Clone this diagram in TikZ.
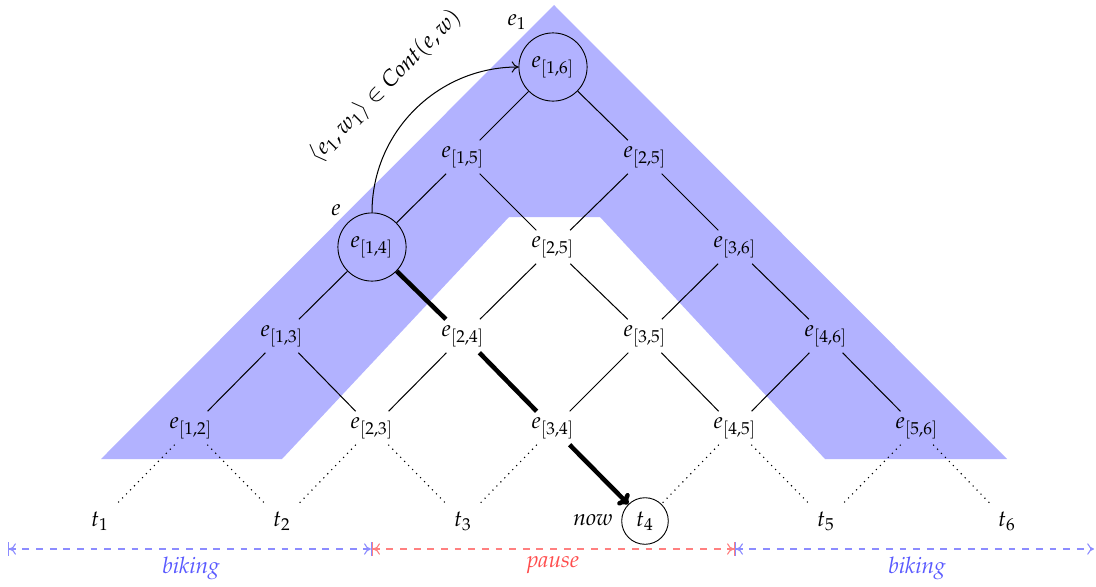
\documentclass[tikz,border=0pt]{standalone}
\usepackage{mathpazo}
\usetikzlibrary{arrows.meta}
\begin{document}
\begin{tikzpicture}[x=0.44pt,y=-0.44pt,
  ev/.style={inner sep=2.5pt},
  cev/.style={circle,draw,minimum size=30pt,inner sep=0pt},
  tn/.style={inner sep=2.5pt},
  edge/.style={line width=0.45pt},
  dotline/.style={dotted,line width=0.5pt},
  thickpath/.style={line width=2pt,-{To[length=4pt,width=7pt]}},
  blueline/.style={dashed,blue!45,line width=0.5pt},
  redline/.style={dashed,red!50,line width=0.5pt},
  bothbars/.style={arrows={Bar[width=6pt] To[length=3pt,width=5pt]-To[length=3pt,width=5pt] Bar[width=6pt]}},
  leftbar/.style={arrows={Bar[width=6pt] To[length=3pt,width=5pt]-To[length=3pt,width=5pt]}}]
\useasboundingbox (0,0) rectangle (1096,586);
% blue region
\fill[blue!30] (101,459) -- (554,5) -- (1007,459) -- (825,459) -- (600,217) -- (509,217) -- (282,459) -- cycle;
% nodes
\node[ev] (e12) at (191,428) {$e_{[1,2]}$};
\node[ev] (e23) at (372,428) {$e_{[2,3]}$};
\node[ev] (e34) at (553,428) {$e_{[3,4]}$};
\node[ev] (e45) at (735,428) {$e_{[4,5]}$};
\node[ev] (e56) at (917,428) {$e_{[5,6]}$};
\node[ev] (e13) at (282,336) {$e_{[1,3]}$};
\node[ev] (e24) at (463,336) {$e_{[2,4]}$};
\node[ev] (e35) at (645,336) {$e_{[3,5]}$};
\node[ev] (e46) at (826,336) {$e_{[4,6]}$};
\node[cev] (e14) at (372,247) {$e_{[1,4]}$};
\node[ev] (e25) at (553,247) {$e_{[2,5]}$};
\node[ev] (e36) at (735,247) {$e_{[3,6]}$};
\node[ev] (e15) at (463,157) {$e_{[1,5]}$};
\node[ev] (e26) at (645,157) {$e_{[2,5]}$};
\node[cev] (e16) at (553,67) {$e_{[1,6]}$};
\node[tn] (t1) at (100,521) {$t_1$};
\node[tn] (t2) at (282,521) {$t_2$};
\node[tn] (t3) at (463,521) {$t_3$};
\node[circle,draw,minimum size=20.5pt,inner sep=0pt] (t4) at (645,521) {$t_4$};
\node[tn] (t5) at (826,521) {$t_5$};
\node[tn] (t6) at (1007,521) {$t_6$};
% labels
\node (le1) at (517,22) {$e_1$};
\node (le) at (336,210) {$e$};
\node (lnow) at (593,520) {$\mathit{now}$};
% edges
\draw[edge] (e16) -- (e15); \draw[edge] (e16) -- (e26);
\draw[edge] (e15) -- (e14); \draw[edge] (e15) -- (e25);
\draw[edge] (e26) -- (e25); \draw[edge] (e26) -- (e36);
\draw[edge] (e14) -- (e13);
\draw[edge] (e25) -- (e24); \draw[edge] (e25) -- (e35);
\draw[edge] (e36) -- (e35); \draw[edge] (e36) -- (e46);
\draw[edge] (e13) -- (e12); \draw[edge] (e13) -- (e23);
\draw[edge] (e24) -- (e23);
\draw[edge] (e35) -- (e34); \draw[edge] (e35) -- (e45);
\draw[edge] (e46) -- (e45); \draw[edge] (e46) -- (e56);
% dotted
\draw[dotline] (e12) -- (t1); \draw[dotline] (e12) -- (t2);
\draw[dotline] (e23) -- (t2); \draw[dotline] (e23) -- (t3);
\draw[dotline] (e34) -- (t3);
\draw[dotline] (e45) -- (t4); \draw[dotline] (e45) -- (t5);
\draw[dotline] (e56) -- (t5); \draw[dotline] (e56) -- (t6);
% thick path
\draw[thickpath] (e14) -- (e24) -- (e34) -- (t4);
% curved arrow
\draw[edge,-{To[length=3pt,width=5pt]}] (e14.north) to[out=90,in=180] (e16.west);
\node[rotate=45] (lcont) at (385,86) {$\langle e_1,w_1\rangle\in \mathit{Cont}(e,w)$};
% timeline
\coordinate (b0) at (8,549);
\coordinate (b1) at (372,549);
\coordinate (b2) at (735,549);
\coordinate (b3) at (1094,549);
\draw[blueline,bothbars] (b0) -- (b1);
\draw[redline,bothbars] (b1) -- (b2);
\draw[blueline,leftbar] (b2) -- (b3);
\node[text=blue!65] (lb1) at (191,568) {$\mathit{biking}$};
\node[text=red!70] (lp) at (553,565) {$\mathit{pause}$};
\node[text=blue!65] (lb2) at (917,568) {$\mathit{biking}$};
\end{tikzpicture}
\end{document}
